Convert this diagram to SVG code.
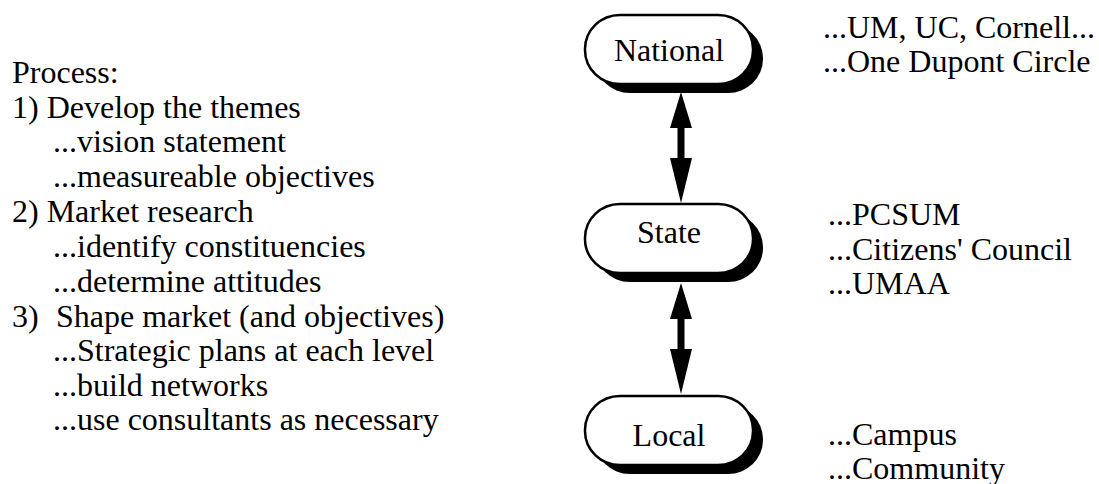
<svg xmlns="http://www.w3.org/2000/svg" width="1099" height="484" viewBox="0 0 1099 484">
<defs>
<g id="pill">
<rect x="10" y="9" width="168" height="69" rx="35" ry="34" fill="#000"/>
<rect x="0" y="0" width="168" height="69" rx="35" ry="34" fill="#fff" stroke="#000" stroke-width="2.5"/>
</g>
<g id="dblarrow">
<line x1="0" y1="28" x2="0" y2="72" stroke="#000" stroke-width="7"/>
<polygon points="0,0 11,36 -11,36" fill="#000"/>
<polygon points="0,111 11,66 -11,66" fill="#000"/>
</g>
</defs>
<rect width="1099" height="484" fill="#fff"/>
<g id="process-text" font-size="32">
<text x="12" y="83" font-family="Times New Roman">Process:</text>
<text x="12" y="118" font-family="Times New Roman">1) Develop the themes</text>
<text x="53" y="152" font-family="Times New Roman">...vision statement</text>
<text x="53" y="187" font-family="Times New Roman">...measureable objectives</text>
<text x="12" y="222" font-family="Times New Roman">2) Market research</text>
<text x="53" y="257" font-family="Times New Roman">...identify constituencies</text>
<text x="53" y="292" font-family="Times New Roman">...determine attitudes</text>
<text x="12" y="327" font-family="Times New Roman">3)<tspan x="56">Shape market (and objectives)</tspan></text>
<text x="53" y="361" font-family="Times New Roman">...Strategic plans at each level</text>
<text x="53" y="396" font-family="Times New Roman">...build networks</text>
<text x="53" y="430" font-family="Times New Roman">...use consultants as necessary</text>
</g>
<g id="connectors">
<use href="#dblarrow" x="681" y="92"/>
<use href="#dblarrow" x="681" y="283"/>
</g>
<g id="national" font-size="32">
<use href="#pill" x="585" y="15"/>
<text x="669" y="61" text-anchor="middle" font-family="Times New Roman">National</text>
</g>
<g id="state" font-size="32">
<use href="#pill" x="585" y="204"/>
<text x="669" y="243" text-anchor="middle" font-family="Times New Roman">State</text>
</g>
<g id="local" font-size="32">
<use href="#pill" x="585" y="396"/>
<text x="669" y="446" text-anchor="middle" font-family="Times New Roman">Local</text>
</g>
<g id="national-notes" font-size="32">
<text x="823" y="38" font-family="Times New Roman">...UM, UC, Cornell...</text>
<text x="823" y="72" font-family="Times New Roman">...One Dupont Circle</text>
</g>
<g id="state-notes" font-size="32">
<text x="828" y="225" font-family="Times New Roman">...PCSUM</text>
<text x="828" y="260" font-family="Times New Roman">...Citizens' Council</text>
<text x="828" y="294" font-family="Times New Roman">...UMAA</text>
</g>
<g id="local-notes" font-size="32">
<text x="828" y="445" font-family="Times New Roman">...Campus</text>
<text x="828" y="479" font-family="Times New Roman">...Community</text>
</g>
</svg>
